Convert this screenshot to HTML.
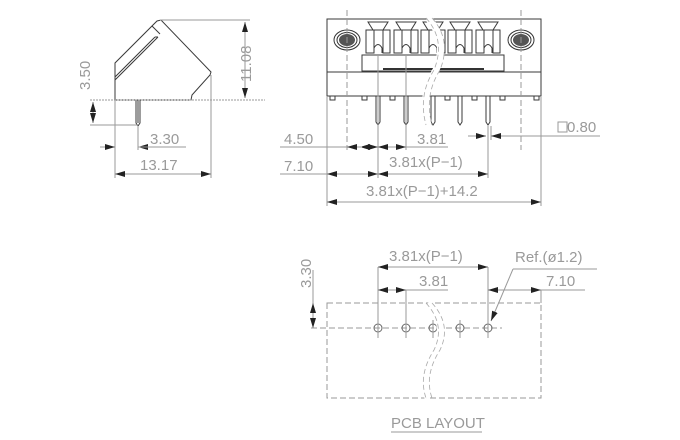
<!DOCTYPE html>
<html><head><style>
html,body{margin:0;padding:0;background:#fff;}
svg{display:block}
text{font-family:"Liberation Sans",sans-serif;font-size:15px;fill:#9a9a9a;}
.d{stroke:#9a9a9a;stroke-width:1;fill:none}
.b{stroke:#3a3a3a;stroke-width:1;fill:none}
.c{stroke:#999;stroke-width:1;fill:none;stroke-dasharray:6,3}
.a{fill:#222}
</style></head><body>
<svg width="680" height="440" viewBox="0 0 680 440" xmlns="http://www.w3.org/2000/svg">
<defs>
<marker id="m" viewBox="0 0 10 6" refX="10" refY="3" markerWidth="10" markerHeight="6" orient="auto-start-reverse" markerUnits="userSpaceOnUse"><path d="M0,0L10,3L0,6z" fill="#222"/></marker>
</defs>
<!-- LEFT SIDE VIEW -->
<path class="b" d="M115,100 L115,63 L157,21 L161,20 L211,72 L210,75 L192,95 L191,100 Z"/>
<path class="b" d="M115,77 L155,37 M115,80 L158,37 M155,37 L158,37 M152,26 L160,34"/>
<path class="b" d="M136,100 L136,123 L138,126 L140,123 L140,100 M138,100 L138,123"/>
<line class="d" x1="90" y1="100" x2="265" y2="100" stroke-dasharray="2,1"/>
<line class="d" x1="90" y1="125" x2="138" y2="125"/>
<line class="d" x1="160" y1="20" x2="250" y2="20"/>
<line class="d" x1="93" y1="102" x2="93" y2="123" marker-start="url(#m)" marker-end="url(#m)"/>
<line class="d" x1="245" y1="22" x2="245" y2="98" marker-start="url(#m)" marker-end="url(#m)"/>
<line class="d" x1="115" y1="100" x2="115" y2="178"/>
<line class="d" x1="138" y1="126" x2="138" y2="150"/>
<line class="d" x1="211" y1="75" x2="211" y2="178"/>
<line class="d" x1="100" y1="147" x2="115" y2="147" marker-end="url(#m)"/>
<line class="d" x1="153" y1="147" x2="138" y2="147" marker-end="url(#m)"/>
<line class="d" x1="138" y1="147" x2="186" y2="147"/>
<text x="150" y="144">3.30</text>
<line class="d" x1="115" y1="174" x2="211" y2="174" marker-start="url(#m)" marker-end="url(#m)"/>
<text x="140" y="170">13.17</text>
<text transform="translate(90,90) rotate(-90)">3.50</text>
<text transform="translate(251,82) rotate(-90)">11.08</text>

<!-- FRONT VIEW -->
<rect class="b" x="327" y="19" width="214" height="77"/>
<line class="b" x1="327" y1="72" x2="541" y2="72"/>
<rect class="b" x="362" y="55" width="142" height="16"/>
<line x1="383" y1="69" x2="484" y2="69" stroke="#333" stroke-width="2"/>
<g stroke="#333" fill="none">
<ellipse cx="347" cy="40" rx="13" ry="10"/><ellipse cx="347" cy="40" rx="10" ry="7.5"/>
<ellipse cx="521" cy="40" rx="13" ry="10"/><ellipse cx="521" cy="40" rx="10" ry="7.5"/>
</g>
<ellipse cx="347" cy="40" rx="8" ry="6" fill="#555"/>
<ellipse cx="521" cy="40" rx="8" ry="6" fill="#555"/>
<g class="b">
<path d="M368,22 H388 L383,30 H373 Z M366,30 H374 V53 H366 Z M383,30 H390 V53 H383 Z M374,53 V48 Q378,41 382,48 V53"/>
<path d="M396,22 H416 L411,30 H401 Z M394,30 H402 V53 H394 Z M411,30 H418 V53 H411 Z M402,53 V48 Q406,41 410,48 V53"/>
<path d="M423,22 H443 L438,30 H428 Z M421,30 H429 V53 H421 Z M438,30 H445 V53 H438 Z M429,53 V48 Q433,41 437,48 V53"/>
<path d="M450,22 H470 L465,30 H455 Z M448,30 H456 V53 H448 Z M465,30 H472 V53 H465 Z M456,53 V48 Q460,41 464,48 V53"/>
<path d="M478,22 H498 L493,30 H483 Z M476,30 H484 V53 H476 Z M493,30 H500 V53 H493 Z M484,53 V48 Q488,41 492,48 V53"/>
</g>
<g class="b">
<path d="M376,96 V122 L378,125 L380,122 V96"/>
<path d="M404,96 V122 L406,125 L408,122 V96"/>
<path d="M431,96 V122 L433,125 L435,122 V96"/>
<path d="M458,96 V122 L460,125 L462,122 V96"/>
<path d="M486,96 V122 L488,125 L490,122 V96"/>
<rect x="330" y="96" width="5" height="4"/><rect x="362" y="96" width="5" height="4"/><rect x="390" y="96" width="5" height="4"/><rect x="445" y="96" width="5" height="4"/><rect x="472" y="96" width="5" height="4"/><rect x="500" y="96" width="5" height="4"/><rect x="534" y="96" width="5" height="4"/>
</g>
<path d="M428,18 Q448,40 436,70 Q420,95 428,125" stroke="#fff" stroke-width="7" fill="none"/>
<path d="M426,18 Q446,40 434,70 Q418,95 426,125 M432,18 Q452,40 440,70 Q424,95 432,125" stroke="#aaa" stroke-width="0.8" fill="none" stroke-dasharray="5,3"/>
<line class="c" x1="347" y1="10" x2="347" y2="150"/>
<line class="c" x1="521" y1="10" x2="521" y2="150"/>
<line class="d" x1="327" y1="96" x2="327" y2="206"/>
<line class="d" x1="541" y1="96" x2="541" y2="206"/>
<line class="d" x1="378" y1="56" x2="378" y2="178"/>
<line class="d" x1="406" y1="56" x2="406" y2="150"/>
<line class="d" x1="488" y1="126" x2="488" y2="178"/>
<line class="d" x1="491" y1="126" x2="491" y2="140"/>
<line class="d" x1="280" y1="147" x2="347" y2="147"/>
<line class="d" x1="360" y1="147" x2="378" y2="147" marker-start="url(#m)" marker-end="url(#m)"/>
<line class="d" x1="362" y1="147" x2="347" y2="147" marker-end="url(#m)"/>
<line class="d" x1="378" y1="147" x2="406" y2="147" marker-start="url(#m)" marker-end="url(#m)"/>
<line class="d" x1="406" y1="147" x2="448" y2="147"/>
<text x="284" y="144">4.50</text>
<text x="417" y="144">3.81</text>
<line class="d" x1="280" y1="174" x2="327" y2="174"/>
<line class="d" x1="327" y1="174" x2="378" y2="174" marker-start="url(#m)" marker-end="url(#m)"/>
<line class="d" x1="378" y1="174" x2="488" y2="174" marker-start="url(#m)" marker-end="url(#m)"/>
<text x="284" y="171">7.10</text>
<text x="389" y="167">3.81x(P−1)</text>
<line class="d" x1="468" y1="136" x2="486" y2="136" marker-end="url(#m)"/>
<line class="d" x1="510" y1="136" x2="491" y2="136" marker-end="url(#m)"/>
<line class="d" x1="510" y1="136" x2="600" y2="136"/>
<rect x="558" y="122" width="9" height="10" fill="none" stroke="#9a9a9a"/>
<text x="567" y="132">0.80</text>
<line class="d" x1="327" y1="202" x2="541" y2="202" marker-start="url(#m)" marker-end="url(#m)"/>
<text x="366" y="196">3.81x(P−1)+14.2</text>

<!-- PCB LAYOUT -->
<rect x="327" y="303" width="214" height="95" fill="none" stroke="#999" stroke-dasharray="6,3"/>
<line class="c" x1="311" y1="328" x2="502" y2="328"/>
<g fill="none" stroke="#666"><circle cx="378" cy="328" r="4"/><circle cx="406" cy="328" r="4"/><circle cx="433" cy="328" r="4"/><circle cx="460" cy="328" r="4"/><circle cx="488" cy="328" r="4"/></g>
<g class="d"><line x1="378" y1="320" x2="378" y2="338"/><line x1="406" y1="290" x2="406" y2="338"/><line x1="433" y1="320" x2="433" y2="338"/><line x1="460" y1="320" x2="460" y2="338"/></g>
<path d="M428,303 Q448,325 436,350 Q420,375 428,398" stroke="#fff" stroke-width="7" fill="none"/>
<path d="M426,303 Q446,325 434,350 Q418,375 426,398 M432,303 Q452,325 440,350 Q424,375 432,398" stroke="#aaa" stroke-width="0.8" fill="none" stroke-dasharray="5,3"/>
<line class="d" x1="313" y1="303" x2="313" y2="328" marker-start="url(#m)" marker-end="url(#m)"/>
<line class="d" x1="313" y1="270" x2="313" y2="303"/>
<text transform="translate(311,288) rotate(-90)">3.30</text>
<line class="d" x1="378" y1="267" x2="378" y2="338"/>
<line class="d" x1="488" y1="267" x2="488" y2="338"/>
<line class="d" x1="541" y1="290" x2="541" y2="303"/>
<line class="d" x1="378" y1="267" x2="488" y2="267" marker-start="url(#m)" marker-end="url(#m)"/>
<text x="389" y="261">3.81x(P−1)</text>
<line class="d" x1="378" y1="290" x2="406" y2="290" marker-start="url(#m)" marker-end="url(#m)"/>
<line class="d" x1="406" y1="290" x2="448" y2="290"/>
<text x="419" y="286">3.81</text>
<line class="d" x1="488" y1="290" x2="541" y2="290" marker-start="url(#m)" marker-end="url(#m)"/>
<line class="d" x1="541" y1="290" x2="585" y2="290"/>
<text x="546" y="286">7.10</text>
<text x="515" y="262">Ref.(ø1.2)</text>
<line class="d" x1="513" y1="269" x2="597" y2="269"/>
<line class="d" x1="513" y1="269" x2="491" y2="321" marker-end="url(#m)"/>
<text x="391" y="428">PCB LAYOUT</text>
<line class="d" x1="391" y1="432" x2="482" y2="432"/>
</svg>
</body></html>
